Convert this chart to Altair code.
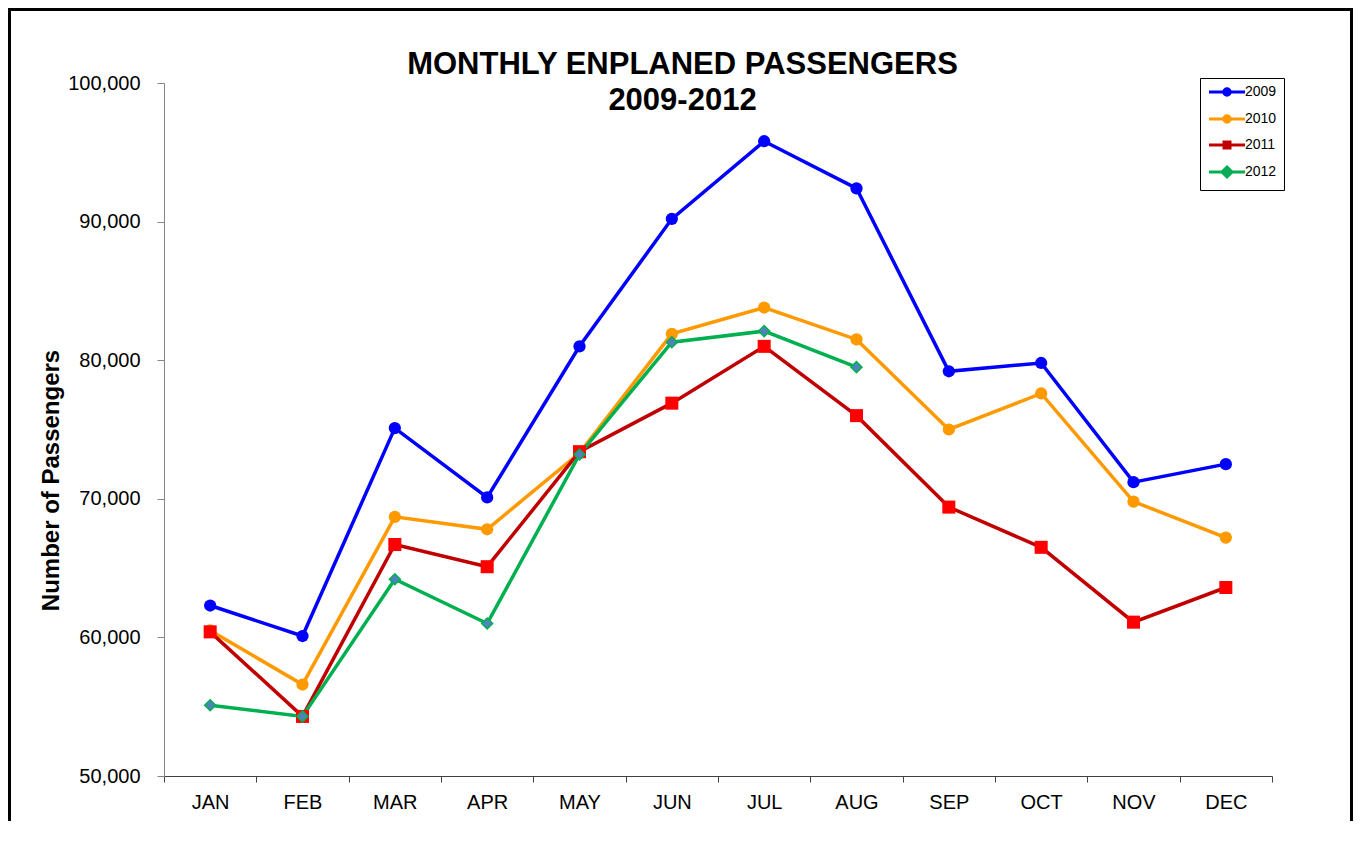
import altair as alt
import pandas as pd

months = ["JAN", "FEB", "MAR", "APR", "MAY", "JUN", "JUL", "AUG", "SEP", "OCT", "NOV", "DEC"]
years = ["2009", "2010", "2011", "2012"]
v2009 = [62300, 60100, 75100, 70100, 81000, 90200, 95800, 92400, 79200, 79800, 71200, 72500]
v2010 = [60500, 56600, 68700, 67800, 73300, 81900, 83800, 81500, 75000, 77600, 69800, 67200]
v2011 = [60400, 54300, 66700, 65100, 73400, 76900, 81000, 76000, 69400, 66500, 61100, 63600]
v2012 = [55100, 54300, 64200, 61000, 73200, 81300, 82100, 79500]

line_colors = ["#0000FF", "#FF9900", "#C00000", "#00B050"]
marker_colors = ["#0000FF", "#FF9900", "#FF0000", "#4F81BD"]
y_ticks = [50000, 60000, 70000, 80000, 90000, 100000]

rows = []
for yr, vals in zip(years, [v2009, v2010, v2011, v2012]):
    for m, v in zip(months, vals):
        rows.append({"month": m, "year": yr, "value": v})
df = pd.DataFrame(rows)

# legend symbols: line segment with marker (unit coordinates)
legend_paths = [
    "M-3.6,0L3.6,0M-0.65,0A0.65,0.65 0 1,0 0.65,0A0.65,0.65 0 1,0 -0.65,0Z",
    "M-3.6,0L3.6,0M-0.65,0A0.65,0.65 0 1,0 0.65,0A0.65,0.65 0 1,0 -0.65,0Z",
    "M-3.6,0L3.6,0M-0.6,-0.6L0.6,-0.6L0.6,0.6L-0.6,0.6Z",
    "M-3.6,0L3.6,0M0,-1L1,0L0,1L-1,0Z",
]

x_enc = alt.X(
    "month:N", sort=months, title=None,
    scale=alt.Scale(domain=months, paddingInner=0, paddingOuter=0),
    axis=alt.Axis(
        labelAngle=0, labelFontSize=20, labelFont="Arial", labelColor="black",
        labelPadding=10, tickBand="extent", tickSize=6, tickColor="#404040",
        domainColor="#404040", domainWidth=1, grid=False,
    ),
)
y_enc = alt.Y(
    "value:Q",
    scale=alt.Scale(domain=[50000, 100000], nice=False, zero=False),
    axis=alt.Axis(
        values=y_ticks, format=",.0f", title="Number of Passengers",
        titleFontSize=24, titleFont="Arial", titleFontWeight="bold", titleColor="black",
        titleX=-106, titleY=397, titleBaseline="alphabetic", titleAngle=270,
        labelFontSize=20, labelFont="Arial", labelColor="black", labelPadding=17,
        tickSize=7, tickColor="#868686", domainColor="#868686", grid=False,
    ),
)

stroke_scale = alt.Scale(domain=years, range=line_colors)
fill_scale = alt.Scale(domain=years, range=marker_colors)

leg = alt.Legend(
    title=None, orient="none", legendX=1036, legendY=-5,
    strokeColor="black", fillColor="white", padding=7, cornerRadius=0,
    labelFontSize=14, labelFont="Arial", labelColor="black",
    symbolSize=100, symbolOffset=13, labelOffset=11, rowPadding=7,
    symbolStrokeWidth=3, symbolOpacity=1,
)

base = alt.Chart(df)

lines = base.mark_line(strokeWidth=3.5).encode(
    x=x_enc, y=y_enc,
    stroke=alt.Stroke("year:N", scale=stroke_scale, legend=None),
)

circles = base.transform_filter(
    alt.FieldOneOfPredicate(field="year", oneOf=["2009", "2010"])
).mark_point(shape="circle", filled=True, size=150, opacity=1, strokeWidth=0).encode(
    x=x_enc, y=y_enc,
    fill=alt.Fill("year:N", scale=fill_scale, legend=None),
)

squares = base.transform_filter(
    alt.FieldEqualPredicate(field="year", equal="2011")
).mark_point(shape="square", filled=True, size=170, opacity=1, strokeWidth=0).encode(
    x=x_enc, y=y_enc,
    fill=alt.Fill("year:N", scale=fill_scale, legend=None),
)

diamonds = base.transform_filter(
    alt.FieldEqualPredicate(field="year", equal="2012")
).mark_point(shape="diamond", filled=True, size=120, opacity=1,
             stroke="#00B050", strokeWidth=1.5).encode(
    x=x_enc, y=y_enc,
    fill=alt.Fill("year:N", scale=fill_scale, legend=None),
)

legend_layer = base.mark_point(filled=True, opacity=0).encode(
    x=alt.value(0), y=alt.value(0),
    fill=alt.Fill("year:N", scale=fill_scale, legend=leg),
    stroke=alt.Stroke("year:N", scale=stroke_scale, legend=leg),
    shape=alt.Shape("year:N", scale=alt.Scale(domain=years, range=legend_paths), legend=leg),
)

one = alt.Chart(pd.DataFrame({"a": [0]}))
frame_left = one.mark_rule(color="black", strokeWidth=3).encode(
    x=alt.value(-154.5), y=alt.value(-75), y2=alt.value(900))
frame_top = one.mark_rule(color="black", strokeWidth=3).encode(
    x=alt.value(-156), x2=alt.value(1189), y=alt.value(-73.5))
frame_right = one.mark_rule(color="black", strokeWidth=3).encode(
    x=alt.value(1187.5), y=alt.value(-75), y2=alt.value(900))

chart = alt.layer(
    frame_left, frame_top, frame_right,
    lines, circles, squares, diamonds, legend_layer,
).resolve_scale(
    fill="independent", stroke="independent", shape="independent"
).properties(
    width=1108, height=693,
    padding={"left": 156, "top": 75, "right": 81, "bottom": 45},
    autosize=alt.AutoSizeParams(type="none"),
    background="white",
    title=alt.TitleParams(
        text=["MONTHLY ENPLANED PASSENGERS", "2009-2012"],
        fontSize=31, font="Arial", fontWeight="bold", color="black",
        anchor="middle", dx=-35.5, dy=114, lineHeight=36,
    ),
).configure_view(strokeWidth=0, strokeOpacity=0)

chart.save("out.html", embed_options={"renderer": "svg", "actions": False})
